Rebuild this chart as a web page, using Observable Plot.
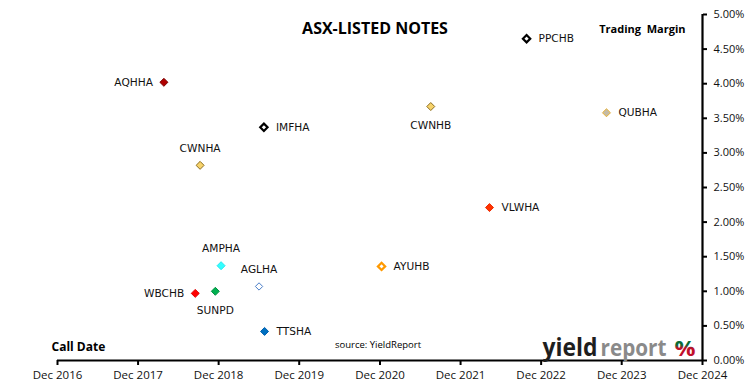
<!DOCTYPE html>
<html>
<head>
<meta charset="utf-8">
<script src="https://cdn.jsdelivr.net/npm/d3@7"></script>
<script src="https://cdn.jsdelivr.net/npm/@observablehq/plot@0.6"></script>
<style>
  html, body { margin: 0; padding: 0; background: #fff; }
  #chart svg { display: block; }
</style>
</head>
<body>
<div id="chart"></div>
<script>
// ---- Data ----
const names    = ["AQHHA","IMFHA","CWNHA","PPCHB","CWNHB","QUBHA","AMPHA","AGLHA","WBCHB","SUNPD","TTSHA","VLWHA","AYUHB"];
const callDates = ["2018-03-28","2019-06-24","2018-09-08","2022-09-26","2021-07-19","2023-09-23","2018-12-12","2019-06-02","2018-08-17","2018-11-16","2019-06-27","2022-04-11","2020-12-08"];
const margins  = [4.02, 3.37, 2.82, 4.65, 3.67, 3.58, 1.37, 1.07, 0.97, 1.00, 0.42, 2.21, 1.36];
const xTickLabels = ["Dec 2016","Dec 2017","Dec 2018","Dec 2019","Dec 2020","Dec 2021","Dec 2022","Dec 2023","Dec 2024"];
const yTicks = [0, 0.5, 1, 1.5, 2, 2.5, 3, 3.5, 4, 4.5, 5];

// ---- Styles (kept apart from the data) ----
const markerStyle = {
  AQHHA: {fill: "#b00000", stroke: "#7a0000", hollow: false},
  IMFHA: {fill: "#ffffff", stroke: "#000000", hollow: true, sw: 2.2},
  CWNHA: {fill: "#f7d36b", stroke: "#8c6d1f", hollow: false},
  PPCHB: {fill: "#ffffff", stroke: "#000000", hollow: true, sw: 2.2},
  CWNHB: {fill: "#f7d36b", stroke: "#8c6d1f", hollow: false},
  QUBHA: {fill: "#c4bba6", stroke: "#eab234", hollow: false},
  AMPHA: {fill: "#33ffff", stroke: "#22e6f0", hollow: false},
  AGLHA: {fill: "#ffffff", stroke: "#4a7ec8", hollow: true, sw: 1},
  WBCHB: {fill: "#ff0000", stroke: "#e00000", hollow: false},
  SUNPD: {fill: "#00b050", stroke: "#009040", hollow: false},
  TTSHA: {fill: "#0070c0", stroke: "#0060b0", hollow: false},
  VLWHA: {fill: "#ff3300", stroke: "#ee2a00", hollow: false},
  AYUHB: {fill: "#ffffff", stroke: "#ff9900", hollow: true, sw: 2.2}
};
const labelSide = {
  AQHHA: "left", IMFHA: "right", CWNHA: "above", PPCHB: "right", CWNHB: "below",
  QUBHA: "right", AMPHA: "above", AGLHA: "above", WBCHB: "left", SUNPD: "below",
  TTSHA: "right", VLWHA: "right", AYUHB: "right"
};

const parse = d3.utcParse("%Y-%m-%d");
const rows = names.map((n, i) => ({name: n, date: parse(callDates[i]), margin: margins[i]}));
const xTicks = xTickLabels.map(s => new Date(Date.UTC(+s.slice(4), 11, 1)));
const xDomain = [xTicks[0], xTicks[xTicks.length - 1]];

const sides = {
  left:  {textAnchor: "end",    dx: -11, dy: 0},
  right: {textAnchor: "start",  dx: 12,  dy: 0},
  above: {textAnchor: "middle", dx: 0,   dy: -17},
  below: {textAnchor: "middle", dx: 0,   dy: 19}
};
const labelMarks = Object.entries(sides).map(([side, o]) =>
  Plot.text(rows.filter(d => labelSide[d.name] === side), {
    x: "date", y: "margin", text: "name",
    textAnchor: o.textAnchor, dx: o.dx, dy: o.dy,
    fontFamily: "DejaVu Sans", fontSize: 10.6, fill: "#111"
  })
);

const filled = rows.filter(d => !markerStyle[d.name].hollow);
const hollow = rows.filter(d => markerStyle[d.name].hollow);

const logoParts = [
  {text: "yield",  dx: -160, fill: "#1e1e1e", len: 55, size: 25},
  {text: "report", dx: -102, fill: "#8a8a8a", len: 66, size: 23},
  {text: "%",      dx: -28,  fill: "url(#pctGrad)", len: 21, size: 22}
];

const chart = Plot.plot({
  width: 750,
  height: 391,
  marginLeft: 57,
  marginRight: 48,
  marginTop: 14,
  marginBottom: 31,
  style: {background: "#fff", fontFamily: "Open Sans"},
  x: {type: "utc", domain: xDomain, label: null},
  y: {domain: [0, 5], label: null},
  color: {type: "identity"},
  marks: [
    Plot.axisX({ticks: xTicks, tickFormat: (d, i) => xTickLabels[i], tickSize: 5, tickPadding: 5,
      fontSize: 11.5, fill: "#111", stroke: "#000", strokeWidth: 2}),
    Plot.axisY({anchor: "right", ticks: yTicks, tickFormat: d => d.toFixed(2) + "%", tickSize: 4, tickPadding: 7,
      fontSize: 11, fill: "#111", stroke: "#000", strokeWidth: 2}),
    Plot.ruleY([0], {stroke: "#000", strokeWidth: 2.2}),
    Plot.ruleX([xDomain[1]], {stroke: "#000", strokeWidth: 2.2}),
    Plot.dot(filled, {x: "date", y: "margin", symbol: "diamond2", r: 3.6,
      fill: d => markerStyle[d.name].fill, stroke: d => markerStyle[d.name].stroke, strokeWidth: 1}),
    Plot.dot(hollow, {x: "date", y: "margin", symbol: "diamond2", r: 3.3,
      fill: d => markerStyle[d.name].fill, stroke: d => markerStyle[d.name].stroke,
      strokeWidth: d => markerStyle[d.name].sw}),
    ...labelMarks,
    // Titles and annotations
    Plot.text(["ASX-LISTED NOTES"], {frameAnchor: "top", dx: -5, dy: 8, fontSize: 16, fontWeight: "bold",
      fontFamily: "Open Sans", fill: "#000"}),
    Plot.text(["Trading  Margin"], {frameAnchor: "top-right", textAnchor: "end", dx: -17, dy: 11, fontSize: 11,
      fontWeight: "bold", fontFamily: "Open Sans", fill: "#000"}),
    Plot.text(["Call Date"], {frameAnchor: "bottom-left", textAnchor: "start", dx: -6, dy: -10, fontSize: 12,
      fontWeight: "bold", fontFamily: "Open Sans", fill: "#000"}),
    Plot.text(["source: YieldReport"], {frameAnchor: "bottom", textAnchor: "start", dx: -45, dy: -13, fontSize: 9.5,
      fontFamily: "Open Sans", fill: "#000"}),
    ...logoParts.map(p => Plot.text([p.text], {frameAnchor: "bottom-right", textAnchor: "start", lineAnchor: "bottom",
      dx: p.dx, dy: -5, fontSize: p.size, fontWeight: "bold", fontFamily: "Open Sans", fill: p.fill,
      className: "logo-" + (p.text === "%" ? "pct" : p.text)}))
  ]
});

const svg = d3.select(chart);
// squeeze logo words to the reference widths
logoParts.forEach(p => {
  svg.selectAll("text").filter(function() { return this.textContent === p.text && this.closest("[class^='logo-']"); })
    .attr("textLength", p.len).attr("lengthAdjust", "spacingAndGlyphs");
});
// gradient for the percent glyph (green top, red bottom)
const defs = svg.insert("defs", ":first-child");
const g = defs.append("linearGradient").attr("id", "pctGrad").attr("x1", 0).attr("y1", 0).attr("x2", 0).attr("y2", 1);
g.append("stop").attr("offset", "0%").attr("stop-color", "#0a6b35");
g.append("stop").attr("offset", "45%").attr("stop-color", "#0a6b35");
g.append("stop").attr("offset", "55%").attr("stop-color", "#c0102a");
g.append("stop").attr("offset", "100%").attr("stop-color", "#c0102a");

document.getElementById("chart").appendChild(chart);
</script>
</body>
</html>
